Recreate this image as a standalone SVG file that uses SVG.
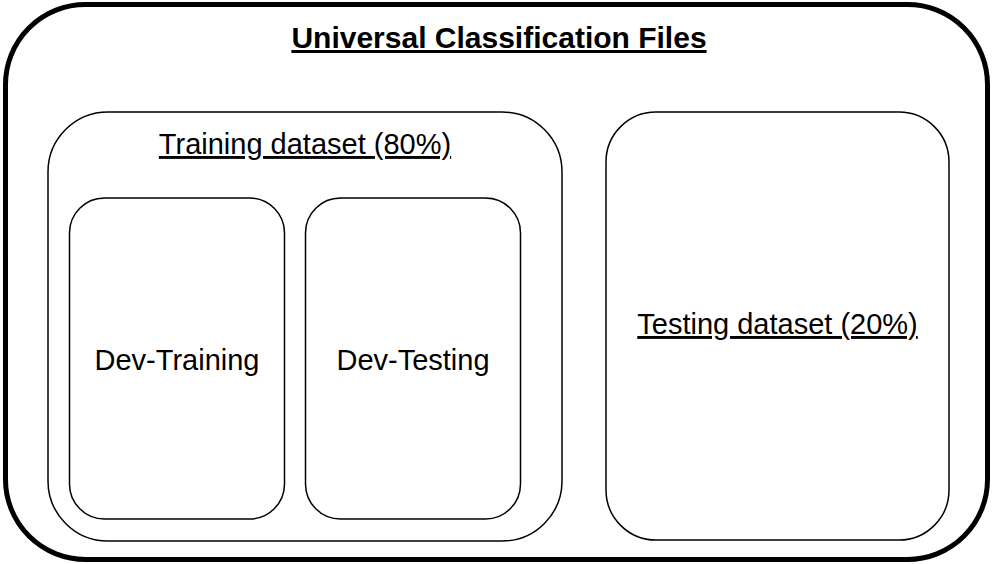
<svg xmlns="http://www.w3.org/2000/svg" width="995" height="564" viewBox="0 0 995 564">
<style>
.box{fill:#fff;stroke:#000;stroke-width:1.5}
.t{font-family:"Liberation Sans",Arial,sans-serif;font-size:29px;fill:#000;text-anchor:middle}
.u{text-decoration:underline}
</style>
<rect width="995" height="564" fill="#fff"/>
<g id="universal">
<rect x="5.5" y="4.5" width="982" height="555" rx="80" ry="80" fill="#fff" stroke="#000" stroke-width="5"/>
<text class="t u" x="499" y="48" font-weight="bold" font-size="30" style="font-size:30px">Universal Classification Files</text>
</g>
<g id="training">
<rect class="box" x="48" y="112" width="514" height="429" rx="60" ry="60"/>
<text class="t u" x="305" y="154">Training dataset (80%)</text>
</g>
<g id="dev-training">
<rect class="box" x="69.5" y="198" width="215" height="321" rx="35" ry="35"/>
<text class="t" x="177" y="370">Dev-Training</text>
</g>
<g id="dev-testing">
<rect class="box" x="305.5" y="198" width="215" height="321" rx="35" ry="35"/>
<text class="t" x="413" y="370">Dev-Testing</text>
</g>
<g id="testing">
<rect class="box" x="606" y="112" width="343" height="428" rx="50" ry="50"/>
<text class="t u" x="777.5" y="334">Testing dataset (20%)</text>
</g>
<g id="connectors"/>
</svg>
